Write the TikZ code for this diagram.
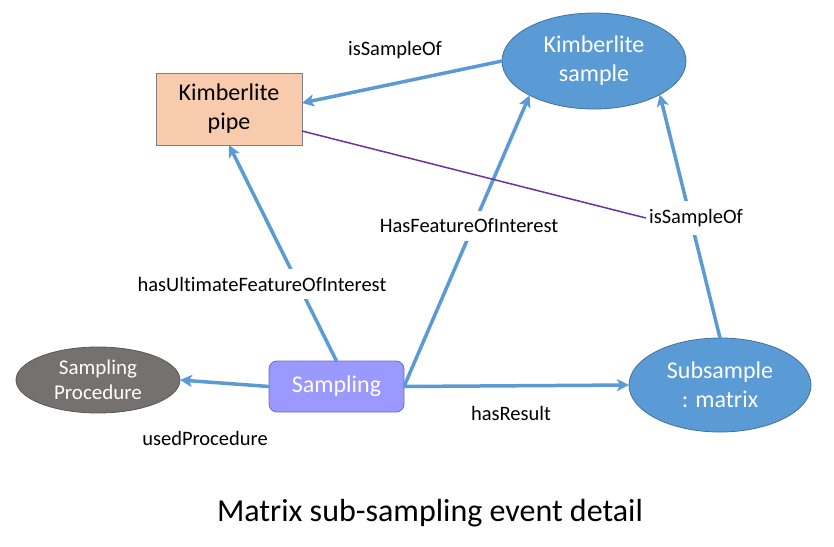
\documentclass[tikz,border=0pt]{standalone}
\usepackage{fontspec}
\setmainfont{Carlito}[Ligatures=NoCommon]
\usetikzlibrary{shapes.geometric,arrows.meta}
\definecolor{nodeblue}{HTML}{5B9BD5}
\definecolor{nodeblueborder}{HTML}{41719C}
\definecolor{arrowblue}{HTML}{5B9BD5}
\definecolor{peach}{HTML}{F8CBAD}
\definecolor{peachborder}{HTML}{7F7F7F}
\definecolor{lav}{HTML}{9999FF}
\definecolor{lavborder}{HTML}{6C6CC8}
\definecolor{procgrey}{HTML}{767171}
\definecolor{procborder}{HTML}{5A5656}
\definecolor{purp}{HTML}{7030A0}
\begin{document}
\begin{tikzpicture}[x=1pt,y=-1pt,
  nodefont/.style={font=\fontsize{24}{29}\selectfont, align=center},
  blueell/.style={ellipse, fill=nodeblue, draw=nodeblueborder, line width=0.8pt, text=white, nodefont, minimum width=184pt, minimum height=96pt, inner sep=0pt, outer sep=0pt},
  pipebox/.style={rectangle, fill=peach, draw=peachborder, line width=0.8pt, text=black, nodefont, minimum width=146pt, minimum height=72pt, inner sep=0pt, outer sep=0pt},
  samplingbox/.style={rectangle, rounded corners=8pt, fill=lav, draw=lavborder, line width=0.8pt, text=white, nodefont, minimum width=135pt, minimum height=51pt, inner sep=0pt, outer sep=0pt},
  procell/.style={ellipse, fill=procgrey, draw=procborder, line width=0.8pt, text=white, font=\fontsize{21}{25}\selectfont, align=center, minimum width=164pt, minimum height=66pt, inner sep=0pt, outer sep=0pt},
  arr/.style={draw=arrowblue, line width=3.5pt, -{Stealth[length=12pt,width=12pt,inset=3pt]}},
  lbl/.style={fill=white, text=black, font=\fontsize{20.5}{24}\selectfont, inner xsep=3pt, inner ysep=8pt},
  purpline/.style={draw=purp, line width=1.5pt},
  titlefont/.style={font=\fontsize{32}{38}\selectfont, text=black}
]
\useasboundingbox (0,0) rectangle (834,546);
\fill[white] (0,0) rectangle (834,546);

\node[pipebox] (pipe) at (229,109) {Kimberlite\\pipe};
\node[blueell] (sample) at (594,61) {Kimberlite\\sample};
\node[blueell, minimum width=182pt, minimum height=94pt] (sub) at (720,385) {Subsample\\: matrix};
\node[procell] (proc) at (98,380) {Sampling\\Procedure};
\node[samplingbox] (sampling) at (336.5,386.5) {Sampling};

\draw[arr] (sample.west) -- ([yshift=6pt]pipe.east);
\draw[arr] (sampling.north) -- (pipe.south);
\draw[arr] (sampling.east) -- (sample.208);
\draw[arr] (sampling.east) -- (sub.west);
\draw[arr] (sub.north) -- (sample.333);
\draw[arr] (sampling.west) -- (proc.east);

\node[lbl] (l1) at (395,50) {isSampleOf};
\node[lbl] (l2) at (262,284) {hasUltimateFeatureOfInterest};
\node[lbl] (l3) at (469,226) {HasFeatureOfInterest};
\node[lbl] (l4) at (696,218) {isSampleOf};
\node[lbl] (l5) at (511,413) {hasResult};
\node[lbl] (l6) at (205,438) {usedProcedure};

\draw[purpline] ([yshift=-22pt]pipe.east) -- (l4.west);

\node[titlefont] (title) at (430,513) {Matrix sub-sampling event detail};
\end{tikzpicture}
\end{document}
